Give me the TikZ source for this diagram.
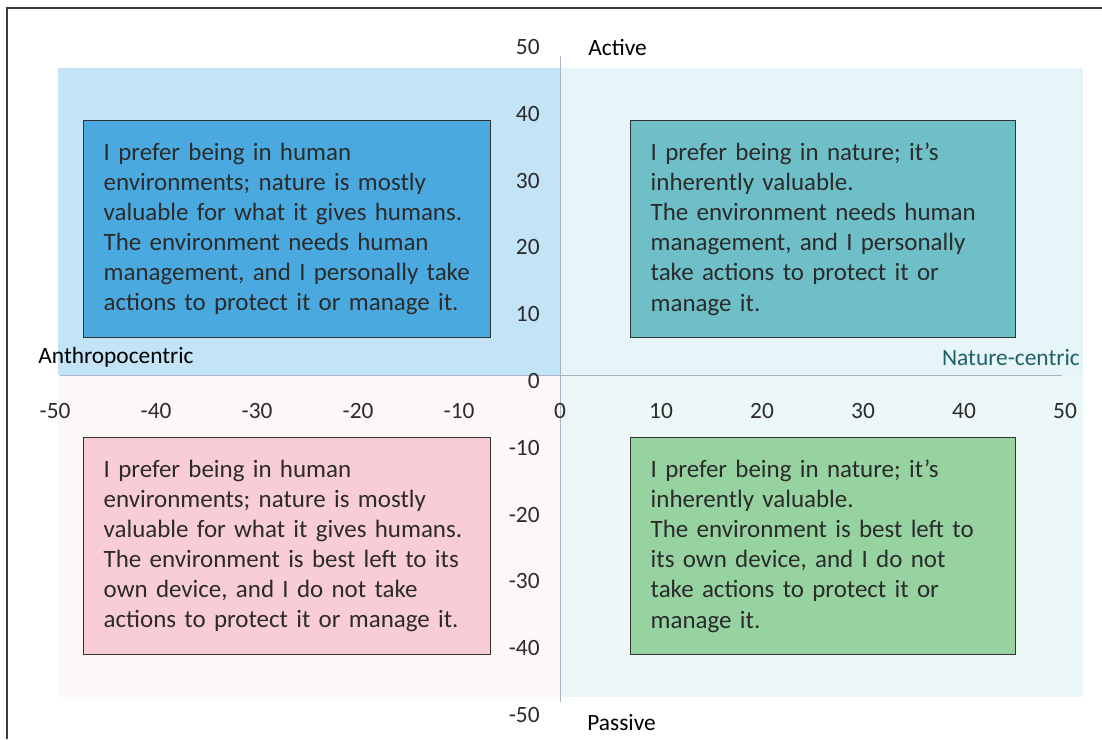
\documentclass[tikz,border=0pt]{standalone}
\usepackage{fontspec}
\setmainfont{Carlito}
\usetikzlibrary{positioning}
\definecolor{boxblue}{HTML}{4AAAE0}
\definecolor{boxteal}{HTML}{6EBFC8}
\definecolor{boxpink}{HTML}{F8CDD6}
\definecolor{boxgreen}{HTML}{96D3A0}
\definecolor{bgblue}{HTML}{C3E3F7}
\definecolor{bgteal}{HTML}{E6F5F8}
\definecolor{bgpink}{HTML}{FDF7F8}
\definecolor{bgmint}{HTML}{ECF8F7}
\definecolor{boxedge}{HTML}{333333}
\definecolor{textdark}{HTML}{2B2B2B}
\definecolor{axisgray}{HTML}{A8B4C4}
\definecolor{framegray}{HTML}{3A3A3A}
\definecolor{naturetext}{HTML}{21606B}

\begin{document}
\begin{tikzpicture}[x=0.202cm, y=0.1336cm,
		quadbox/.style={draw=boxedge, line width=0.8pt, inner xsep=0.4cm, align=left, minimum height=4.34cm, anchor=north west, text=textdark, font=\fontsize{14.2}{17.1}\selectfont},
		ticklabel/.style={inner sep=0, text=textdark, font=\fontsize{13.3}{16}\selectfont},
		axislabel/.style={inner sep=0, font=\fontsize{13.3}{16}\selectfont},
		axisline/.style={draw=axisgray, line width=0.6pt}]
		\useasboundingbox (-55.45,-54.49) rectangle (53.66,56.14);
		\draw[line width=1.2pt, draw=framegray] (-54.75,-54.49) -- (-54.75,54.94) -- (53.66,54.94);
		\fill[bgblue] (-49.7,0) rectangle (0,45.96);
		\fill[bgteal] (0,0) rectangle (51.8,45.96);
		\fill[bgpink] (-49.7,0) rectangle (0,-48.2);
		\fill[bgmint] (0,0) rectangle (51.8,-48.2);
		\coordinate (ytop) at (0,47.8);
		\coordinate (ybot) at (0,-49);
		\coordinate (xleft) at (-49.5,0);
		\coordinate (xright) at (49.7,0);
		\draw[axisline] (ybot) -- (ytop);
		\draw[axisline] (xleft) -- (xright);
		\foreach \v [count=\i] in {-50,-40,...,50} {
			\node[ticklabel] (xt\i) at (\v,-5.39) {\v};
			\node[ticklabel, anchor=east] (yt\i) at (-1.98,\v-0.9) {\v};
		}
		\node[quadbox, fill=boxblue, text width=7.34cm] (humanact) at (-47.23,38.17) {I prefer being in human\\ environments; nature is mostly\\ valuable for what it gives humans.\\ The environment needs human\\ management, and I personally take\\ actions to protect it or manage it.};
		\node[quadbox, fill=boxteal, text width=6.9cm] (natureact) at (6.93,38.17) {I prefer being in nature; it's\\ inherently valuable.\\ The environment needs human\\ management, and I personally\\ take actions to protect it or\\ manage it.};
		\node[quadbox, fill=boxpink, text width=7.34cm] (humanpass) at (-47.23,-9.28) {I prefer being in human\\ environments; nature is mostly\\ valuable for what it gives humans.\\ The environment is best left to its\\ own device, and I do not take\\ actions to protect it or manage it.};
		\node[quadbox, fill=boxgreen, text width=6.9cm] (naturepass) at (6.93,-9.28) {I prefer being in nature; it's\\ inherently valuable.\\ The environment is best left to\\ its own device, and I do not\\ take actions to protect it or\\ manage it.};
		\node[axislabel, anchor=west] (active) at (2.77,49.1) {Active};
		\node[axislabel, anchor=west] (passive) at (2.67,-51.95) {Passive};
		\node[axislabel, anchor=west] (anthro) at (-51.68,2.69) {Anthropocentric};
		\node[axislabel, anchor=east, text=naturetext] (naturec) at (51.49,2.69) {Nature-centric};
	\end{tikzpicture}
\end{document}
